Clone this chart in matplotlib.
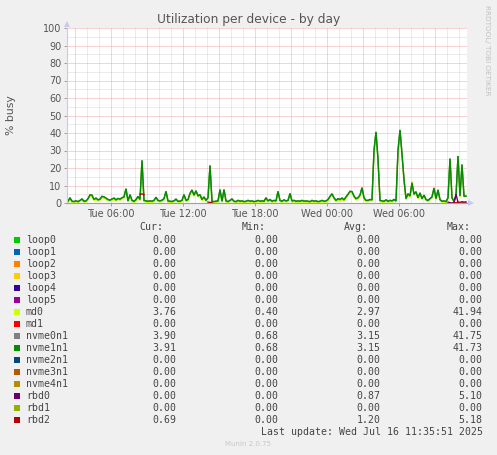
import numpy as np
import matplotlib
matplotlib.use("Agg")
import matplotlib.pyplot as plt
from matplotlib.patches import Rectangle, Polygon

# ---------------- data ----------------
title = "Utilization per device - by day"
ylabel = "% busy"
# samples every 10 minutes starting Tue 02:25 (hours since Tue 00:00)
start_hour = 2 + 25 / 60
step_hours = 10 / 60

nvme1n1 = [
    1.0, 3.0, 1.0, 0.8, 1.2, 0.8, 1.5, 2.3, 1.0, 1.2,
    2.5, 4.6, 4.5, 2.0, 2.8, 1.8, 2.2, 3.8, 3.5, 2.8,
    2.0, 1.6, 2.3, 2.8, 1.8, 2.6, 2.2, 3.0, 3.5, 8.2,
    1.2, 4.8, 1.5, 1.0, 2.0, 3.8, 2.0, 24.4, 1.5, 1.2,
    1.0, 1.2, 1.0, 1.5, 3.3, 1.5, 1.2, 1.6, 2.5, 6.7,
    1.2, 1.0, 0.8, 1.3, 2.2, 1.0, 1.0, 1.5, 4.8, 1.5,
    2.0, 5.5, 7.5, 4.5, 7.0, 4.0, 4.8, 2.0, 3.5, 1.5,
    3.0, 21.5, 1.0, 0.8, 1.0, 1.2, 7.7, 1.0, 7.7, 1.2,
    0.8, 1.5, 2.3, 1.0, 0.8, 1.5, 1.0, 1.2, 0.8, 1.0,
    1.5, 1.0, 1.2, 0.8, 1.0, 1.5, 1.0, 1.2, 1.0, 3.0,
    1.2, 2.0, 1.0, 1.5, 1.2, 6.7, 1.5, 1.0, 1.8, 1.2,
    1.5, 5.5, 1.2, 1.5, 1.0, 1.2, 1.0, 1.5, 1.0, 1.2,
    1.0, 0.8, 1.5, 1.0, 1.2, 0.8, 1.0, 1.5, 1.0, 1.2,
    2.0, 3.8, 5.3, 3.0, 1.5, 2.5, 2.0, 2.8, 1.8, 3.5,
    5.0, 6.7, 6.5, 4.0, 2.5, 3.0, 4.5, 8.8, 3.0, 1.5,
    1.5, 2.0, 1.8, 30.0, 40.6, 25.0, 1.5, 1.2, 1.0, 1.8,
    1.0, 1.5, 1.2, 2.0, 1.2, 30.0, 41.73, 28.0, 13.5, 2.5,
    5.3, 4.0, 11.5, 5.0, 6.5, 3.0, 5.8, 2.5, 4.5, 2.0,
    1.5, 2.5, 3.5, 8.6, 2.5, 7.5, 2.0, 1.0, 1.2, 0.8,
    3.0, 25.4, 3.0, 1.0, 4.0, 26.9, 4.0, 22.0, 4.0, 3.91,
]

nvme0n1 = [
    1.1, 3.0, 1.0, 0.9, 1.2, 0.8, 1.5, 2.4, 1.0, 1.2,
    2.5, 4.7, 4.5, 2.1, 2.8, 1.8, 2.3, 3.8, 3.5, 2.8,
    2.0, 1.7, 2.3, 2.8, 1.9, 2.6, 2.2, 3.0, 3.5, 8.1,
    1.2, 4.8, 1.6, 1.0, 2.0, 3.8, 2.1, 24.3, 1.5, 1.2,
    1.0, 1.3, 1.0, 1.5, 3.3, 1.5, 1.2, 1.7, 2.5, 6.6,
    1.2, 1.0, 0.9, 1.3, 2.2, 1.0, 1.1, 1.5, 4.8, 1.5,
    2.0, 5.5, 7.4, 4.5, 7.0, 4.1, 4.8, 2.0, 3.5, 1.6,
    3.0, 21.4, 1.0, 0.8, 1.1, 1.2, 7.6, 1.0, 7.7, 1.2,
    0.9, 1.5, 2.3, 1.0, 0.8, 1.5, 1.1, 1.2, 0.8, 1.0,
    1.5, 1.1, 1.2, 0.8, 1.0, 1.5, 1.0, 1.3, 1.0, 3.0,
    1.2, 2.0, 1.1, 1.5, 1.2, 6.6, 1.5, 1.0, 1.8, 1.2,
    1.5, 5.4, 1.2, 1.5, 1.0, 1.3, 1.0, 1.5, 1.1, 1.2,
    1.0, 0.8, 1.5, 1.0, 1.3, 0.8, 1.0, 1.5, 1.0, 1.2,
    2.0, 3.8, 5.2, 3.0, 1.5, 2.5, 2.1, 2.8, 1.8, 3.5,
    5.0, 6.6, 6.5, 4.0, 2.5, 3.0, 4.5, 8.7, 3.0, 1.5,
    1.5, 2.0, 1.8, 30.1, 40.7, 25.0, 1.5, 1.2, 1.0, 1.8,
    1.0, 1.5, 1.2, 2.0, 1.2, 30.0, 41.75, 28.0, 13.4, 2.5,
    5.3, 4.0, 11.5, 5.0, 6.4, 3.0, 5.8, 2.5, 4.5, 2.0,
    1.5, 2.5, 3.5, 8.6, 2.5, 7.5, 2.0, 1.0, 1.2, 0.8,
    3.0, 25.4, 3.0, 1.0, 4.0, 26.8, 4.0, 22.0, 4.0, 3.90,
]

md0 = [
    0.4, 2.4, 0.5, 0.4, 0.6, 0.4, 0.8, 1.6, 0.4, 0.6,
    1.8, 3.9, 3.9, 1.3, 2.1, 1.1, 1.6, 3.1, 2.8, 2.1,
    1.3, 1.0, 1.6, 2.1, 1.1, 1.9, 1.6, 2.3, 2.8, 7.6,
    0.5, 4.1, 0.7, 0.4, 1.2, 3.1, 1.3, 24.0, 0.7, 0.5,
    0.4, 0.5, 0.4, 0.7, 2.6, 0.8, 0.5, 0.9, 1.8, 6.0,
    0.5, 0.4, 0.4, 0.6, 1.5, 0.4, 0.4, 0.7, 4.1, 0.7,
    1.3, 4.8, 6.8, 3.8, 6.3, 3.3, 4.1, 1.3, 2.8, 0.7,
    2.3, 21.0, 0.4, 0.4, 0.4, 0.5, 7.0, 0.4, 7.0, 0.5,
    0.4, 0.7, 1.6, 0.4, 0.4, 0.7, 0.4, 0.5, 0.4, 0.4,
    0.7, 0.4, 0.5, 0.4, 0.4, 0.7, 0.4, 0.5, 0.4, 2.3,
    0.5, 1.3, 0.4, 0.7, 0.5, 6.0, 0.7, 0.4, 1.0, 0.5,
    0.7, 4.8, 0.5, 0.7, 0.4, 0.5, 0.4, 0.7, 0.4, 0.5,
    0.4, 0.4, 0.7, 0.4, 0.5, 0.4, 0.4, 0.7, 0.4, 0.5,
    1.3, 3.1, 4.6, 2.3, 0.7, 1.8, 1.3, 2.1, 1.1, 2.8,
    4.3, 6.0, 5.8, 3.3, 1.8, 2.3, 3.8, 8.1, 2.3, 0.7,
    0.7, 1.3, 1.1, 29.5, 40.4, 24.5, 0.7, 0.5, 0.4, 1.1,
    0.4, 0.7, 0.5, 1.3, 0.5, 29.5, 41.5, 27.5, 13.0, 1.8,
    4.6, 3.3, 12.5, 4.3, 5.8, 2.3, 5.1, 1.8, 3.8, 1.3,
    0.7, 1.8, 2.8, 7.9, 1.8, 6.8, 1.3, 0.4, 0.5, 0.4,
    2.3, 25.0, 2.3, 0.4, 3.3, 26.5, 3.3, 21.5, 3.3, 3.76,
]

# rbd devices only report during short windows (sample number -> value)
rbd0_slots = [190, 191, 192, 193, 194, 195, 196, 197, 198, 199]
rbd0_vals = [0.5, 0.2, 0.0, 0.3, 5.1, 0.4, 0.0, 0.0, 0.0, 0.0]
rbd2_slots = [36, 37, 38, 70, 71, 72, 193, 194, 195, 196, 197, 198, 199]
rbd2_vals = [5.0, 5.18, 4.8, 0.5, 0.3, 0.4, 0.4, 0.0, 0.6, 0.3, 0.8, 0.5, 0.69]

devices = ["loop0", "loop1", "loop2", "loop3", "loop4", "loop5", "md0", "md1",
           "nvme0n1", "nvme1n1", "nvme2n1", "nvme3n1", "nvme4n1", "rbd0", "rbd1", "rbd2"]
colors = ["#00CC00", "#0066B3", "#FF8000", "#FFCC00", "#330099", "#990099", "#CCFF00", "#FF0000",
          "#808080", "#008F00", "#00487D", "#B35A00", "#B38F00", "#6B006B", "#8FB300", "#B30000"]
cur = ["0.00", "0.00", "0.00", "0.00", "0.00", "0.00", "3.76", "0.00",
       "3.90", "3.91", "0.00", "0.00", "0.00", "0.00", "0.00", "0.69"]
mins = ["0.00", "0.00", "0.00", "0.00", "0.00", "0.00", "0.40", "0.00",
        "0.68", "0.68", "0.00", "0.00", "0.00", "0.00", "0.00", "0.00"]
avgs = ["0.00", "0.00", "0.00", "0.00", "0.00", "0.00", "2.97", "0.00",
        "3.15", "3.15", "0.00", "0.00", "0.00", "0.87", "0.00", "1.20"]
maxs = ["0.00", "0.00", "0.00", "0.00", "0.00", "0.00", "41.94", "0.00",
        "41.75", "41.73", "0.00", "0.00", "0.00", "5.10", "0.00", "5.18"]

xtick_hours = [6, 12, 18, 24, 30]
xtick_labels = ["Tue 06:00", "Tue 12:00", "Tue 18:00", "Wed 00:00", "Wed 06:00"]
last_update = "Last update: Wed Jul 16 11:35:51 2025"

# ---------------- figure ----------------
W, H = 497, 455
BG = "#F0F0F0"
TXT = "#555555"
fig = plt.figure(figsize=(W / 100, H / 100), dpi=100, facecolor=BG)

def fx(x):
    return x / W

def fy(y):
    return 1 - y / H

L, R, T, B = 67, 467, 28, 203
ax = fig.add_axes([fx(L), fy(B), (R - L) / W, (B - T) / H], facecolor="white")

n = len(nvme1n1)
times = start_hour + step_hours * np.arange(n)
x_lo, x_hi = 2 + 20 / 60, 35 + 40 / 60
ax.set_xlim(x_lo, x_hi)
ax.set_ylim(0, 100)

# grid
dot = (0, (1, 1))
for h in range(3, 36):
    if h % 3 == 0:
        ax.axvline(h, color="#F2A8A8", lw=0.72, ls=dot, zorder=0.6)
    else:
        ax.axvline(h, color="#D8D8D8", lw=0.72, ls=dot, zorder=0.5)
for v in range(5, 101, 5):
    if v % 10 == 0:
        ax.axhline(v, color="#F2A8A8", lw=0.72, ls=dot, zorder=0.6)
    else:
        ax.axhline(v, color="#D8D8D8", lw=0.72, ls=dot, zorder=0.5)

def full(slots, vals):
    arr = np.full(n, np.nan)
    arr[np.array(slots)] = vals
    return arr

series = {
    "md0": np.array(md0),
    "nvme0n1": np.array(nvme0n1),
    "nvme1n1": np.array(nvme1n1),
    "rbd0": full(rbd0_slots, rbd0_vals),
    "rbd2": full(rbd2_slots, rbd2_vals),
}
for name, vals in series.items():
    c = colors[devices.index(name)]
    ax.plot(times, vals, color=c, lw=1.0, zorder=2, solid_joinstyle="miter")

for s in ["top", "right"]:
    ax.spines[s].set_visible(False)
ax.spines["left"].set_color("#C8C8F0")
ax.spines["bottom"].set_color("#A0A0A0")
ax.spines["left"].set_linewidth(0.8)
ax.spines["bottom"].set_linewidth(0.8)
ax.spines["left"].set_zorder(3)
ax.spines["bottom"].set_zorder(3)

ax.set_yticks(range(0, 101, 10))
ax.set_yticklabels([str(v) for v in range(0, 101, 10)])
ax.set_xticks(xtick_hours)
ax.set_xticklabels(xtick_labels)
ax.tick_params(axis="both", labelsize=7, colors="#A0A0A0", labelcolor=TXT,
               length=2, width=0.7, pad=2)

# arrows
arrow_c = "#C8C8F0"
fig.patches.append(Polygon([(L - 3, H - T + 1), (L + 3, H - T + 1), (L, H - T + 7)],
                           closed=True, transform=None, facecolor=arrow_c, edgecolor="none"))
fig.patches.append(Polygon([(R + 1, H - B - 3), (R + 1, H - B + 3), (R + 7, H - B)],
                           closed=True, transform=None, facecolor=arrow_c, edgecolor="none"))

# titles
fig.text(fx(248.5), fy(19), title, ha="center", va="center", fontsize=8.8, color=TXT)
fig.text(fx(11), fy(115), ylabel, ha="center", va="center", rotation=90, fontsize=7.8, color=TXT)
fig.text(fx(487.5), fy(5), "RRDTOOL/ TOBI OETIKER", ha="center", va="top", rotation=-90,
         fontsize=5.2, color="#C0C0C0")

# legend
mono = "DejaVu Sans Mono"
lfs = 7.1
LTXT = "#444444"
head_y = 227.5
for label, xr in [("Cur:", 163.5), ("Min:", 266), ("Avg:", 368.3), ("Max:", 470.5)]:
    fig.text(fx(xr), fy(head_y), label, ha="right", va="center", family=mono, fontsize=lfs, color=LTXT)

for i, name in enumerate(devices):
    yc = 240 + 12 * i
    fig.patches.append(Rectangle((14, H - yc - 3), 6, 6, transform=None,
                                 facecolor=colors[i], edgecolor="none"))
    fig.text(fx(26), fy(yc), name, ha="left", va="center", family=mono, fontsize=lfs, color=LTXT)
    for col, xr in [(cur, 176), (mins, 278.5), (avgs, 380.5), (maxs, 482.8)]:
        fig.text(fx(xr), fy(yc), col[i], ha="right", va="center", family=mono, fontsize=lfs, color=LTXT)

fig.text(fx(482.8), fy(432), last_update, ha="right", va="center", family=mono, fontsize=lfs, color=LTXT)
fig.text(fx(248), fy(444), "Munin 2.0.75", ha="center", va="center", fontsize=5, color="#C8C8C8")

fig.savefig("out.png", dpi=100, facecolor=BG)
